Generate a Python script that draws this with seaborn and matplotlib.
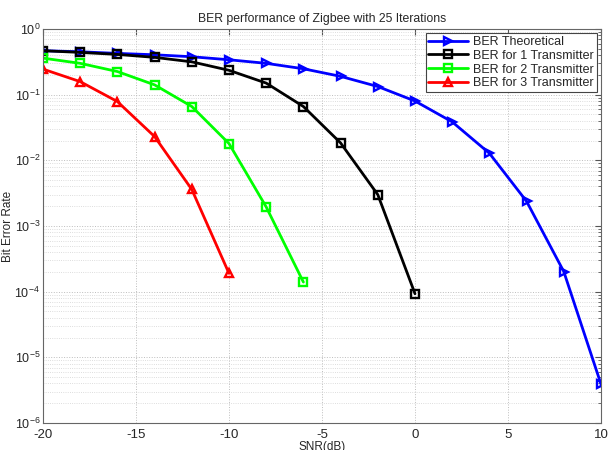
import numpy as np
import pandas as pd
import matplotlib
matplotlib.use("Agg")
import matplotlib.pyplot as plt
import seaborn as sns
from matplotlib.ticker import LogLocator, NullFormatter

# values
snr_theory = [-20, -18, -16, -14, -12, -10, -8, -6, -4, -2, 0, 2, 4, 6, 8, 10]
ber_theory = [0.467, 0.45, 0.425, 0.405, 0.378, 0.34, 0.30, 0.248, 0.19, 0.133,
              0.080, 0.0385, 0.0128, 0.00237, 0.000202, 3.9e-6]

snr_tx1 = [-20, -18, -16, -14, -12, -10, -8, -6, -4, -2, 0]
ber_tx1 = [0.467, 0.44, 0.41, 0.37, 0.316, 0.235, 0.15, 0.066, 0.0184, 0.003, 9.3e-5]

snr_tx2 = [-20, -18, -16, -14, -12, -10, -8, -6]
ber_tx2 = [0.36, 0.30, 0.225, 0.141, 0.066, 0.018, 0.00195, 1.4e-4]

snr_tx3 = [-20, -18, -16, -14, -12, -10]
ber_tx3 = [0.245, 0.158, 0.0785, 0.023, 0.0036, 1.9e-4]

labels = ["BER Theoretical", "BER for 1 Transmitter",
          "BER for 2 Transmitter", "BER for 3 Transmitter"]

sns.set_style("white")
plt.rcParams['font.family'] = ['Liberation Sans', 'DejaVu Sans']
plt.rcParams['axes.unicode_minus'] = False

fig = plt.figure(figsize=(6.09, 4.5), dpi=100)
ax = fig.add_axes([43 / 609, 1 - 423 / 450, 558 / 609, 394 / 450])

series = [
    (snr_theory, ber_theory, labels[0], "#0000ff", ">"),
    (snr_tx1, ber_tx1, labels[1], "#000000", "s"),
    (snr_tx2, ber_tx2, labels[2], "#00ff00", "s"),
    (snr_tx3, ber_tx3, labels[3], "#ff0000", "^"),
]
for x, y, lab, col, mk in series:
    df = pd.DataFrame({"SNR": x, "BER": y})
    sns.lineplot(data=df, x="SNR", y="BER", ax=ax, color=col, marker=mk,
                 markersize=6, markerfacecolor="none", markeredgecolor=col,
                 markeredgewidth=1.7, linewidth=2, label=lab)

ax.set_yscale("log")
ax.set_xlim(-20, 10)
ax.set_ylim(1e-6, 1)
ax.set_xticks([-20, -15, -10, -5, 0, 5, 10])
ax.yaxis.set_major_locator(LogLocator(base=10, numticks=10))
ax.yaxis.set_minor_locator(LogLocator(base=10, subs=np.arange(2, 10), numticks=100))
ax.yaxis.set_minor_formatter(NullFormatter())

ax.grid(True, which="major", linestyle=":", color="#bdbdbd", linewidth=0.7)
ax.grid(True, which="minor", axis="y", linestyle=":", color="#d2d2d2", linewidth=0.6)
ax.tick_params(which="both", direction="in", top=True, right=True,
               color="#555555")
ax.tick_params(axis="x", pad=4.5, labelsize=9.5)
ax.tick_params(axis="y", pad=2, labelsize=9)
ax.tick_params(which="major", length=4)
ax.tick_params(which="minor", length=2)
for s in ax.spines.values():
    s.set_color("#666666")
    s.set_linewidth(0.8)

ax.set_title("BER performance of Zigbee with 25 Iterations", fontsize=8.8, pad=5)
ax.set_xlabel("SNR(dB)", fontsize=8.5, labelpad=0)
ax.set_ylabel("Bit Error Rate", fontsize=8.5)
ax.yaxis.set_label_coords(-0.052, 0.5)

leg = ax.legend(loc="upper right", fontsize=9, frameon=True, fancybox=False,
                edgecolor="#444444", framealpha=1, borderpad=0.2,
                handlelength=3.2, handletextpad=0.4, labelspacing=0.15,
                borderaxespad=0.35)
leg.get_frame().set_linewidth(0.8)

fig.savefig("out.png", dpi=100)
